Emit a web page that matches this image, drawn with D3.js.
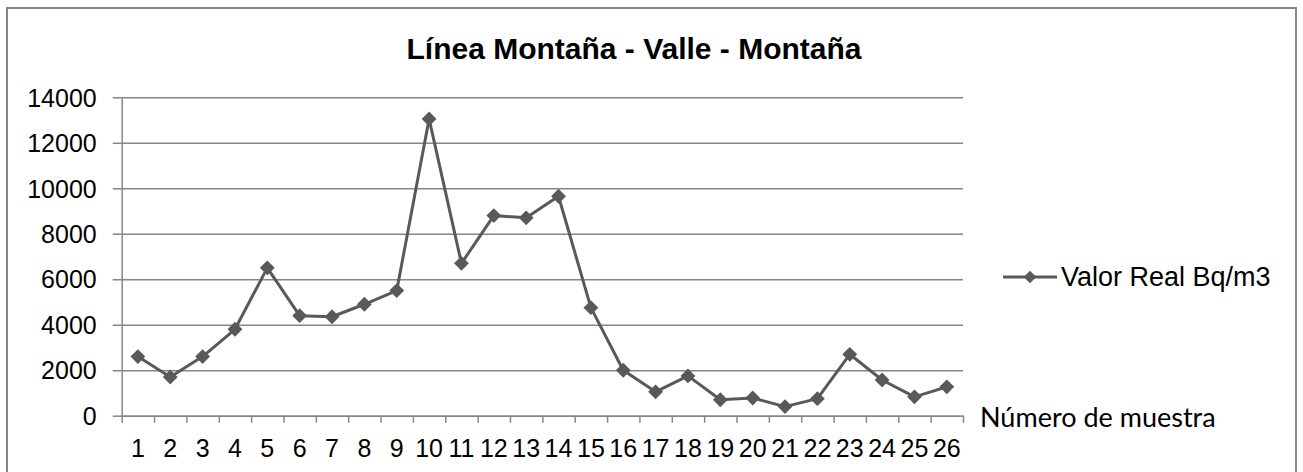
<!DOCTYPE html>
<html>
<head>
<meta charset="utf-8">
<script src="https://cdn.jsdelivr.net/npm/d3@7"></script>
<style>
  body { margin: 0; background: #ffffff; }
  text { font-family: "Liberation Sans", Arial, sans-serif; fill: #000000; }
  .grid line { stroke: #868686; stroke-width: 1.5; }
  .grid path { display: none; }
  .axis path, .axis line { stroke: #868686; stroke-width: 1.5; }
</style>
</head>
<body>
<div id="chart"></div>
<script>
// sample numbers on the x axis
var muestras = ["1", "2", "3", "4", "5", "6", "7", "8", "9", "10", "11", "12", "13",
                "14", "15", "16", "17", "18", "19", "20", "21", "22", "23", "24", "25", "26"];

var valorReal = [2600, 1700, 2600, 3800, 6500, 4400, 4350, 4900, 5500, 13050, 6700, 8800, 8700,
                 9650, 4750, 2000, 1050, 1750, 700, 780, 400, 750, 2700, 1570, 830, 1270];

// y axis ticks
var yTicks = [0, 2000, 4000, 6000, 8000, 10000, 12000, 14000];

var titulo = "Línea Montaña - Valle - Montaña";
var serieNombre = "Valor Real Bq/m3";
var ejeXNombre = "Número de muestra";

// sizes of the canvas and the plot area
var outerWidth = 1303,
    outerHeight = 472,
    plot = {left: 121.7, right: 963, top: 97.3, bottom: 415.7},
    color = "#595959";

var svg = d3.select("#chart")
    .append("svg")
    .attr("width", outerWidth)
    .attr("height", outerHeight);

// frame round the chart, bottom runs off the picture
svg.append("rect")
    .attr("x", 7)
    .attr("y", 8)
    .attr("width", 1289)
    .attr("height", 480)
    .attr("fill", "none")
    .attr("stroke", "#868686")
    .attr("stroke-width", 2);

// scales
var xScale = d3.scaleBand()
    .domain(muestras)
    .range([plot.left, plot.right])
    .padding(0);

var xEdges = d3.scaleLinear()
    .domain([0, muestras.length])
    .range([plot.left, plot.right]);

var yScale = d3.scaleLinear()
    .domain([0, 14000])
    .range([plot.bottom, plot.top]);

// horizontal gridlines
svg.append("g")
    .attr("class", "grid")
    .attr("transform", "translate(" + plot.left + ",0)")
    .call(d3.axisRight(yScale)
        .tickValues(yTicks)
        .tickSize(plot.right - plot.left)
        .tickFormat("")
    );

// y axis
var yAxis = svg.append("g")
    .attr("class", "axis")
    .attr("transform", "translate(" + plot.left + ",0)")
    .call(d3.axisLeft(yScale)
        .tickValues(yTicks)
        .tickSize(9)
        .tickSizeOuter(0)
        .tickPadding(16)
        .tickFormat(d => d)
    );

yAxis.selectAll("text")
    .style("font-size", "25px")
    .attr("dy", "0.35em");

// x axis: tick marks on band edges, labels in the middle of each band
svg.append("g")
    .attr("class", "axis")
    .attr("transform", "translate(0," + plot.bottom + ")")
    .call(d3.axisBottom(xEdges)
        .tickValues(d3.range(0, muestras.length + 1))
        .tickSize(7)
        .tickSizeOuter(0)
        .tickFormat("")
    );

var xLabels = svg.append("g")
    .attr("transform", "translate(0," + plot.bottom + ")")
    .call(d3.axisBottom(xScale)
        .tickSize(0)
        .tickPadding(24)
    );

xLabels.select(".domain").remove();
xLabels.selectAll("text")
    .style("font-size", "25px");

// the line
var line = d3.line()
    .x((d, i) => xScale(muestras[i]) + xScale.bandwidth() / 2)
    .y(d => yScale(d));

svg.append("path")
    .datum(valorReal)
    .attr("fill", "none")
    .attr("stroke", color)
    .attr("stroke-width", 3)
    .attr("stroke-linejoin", "round")
    .attr("d", line);

// diamond markers
var diamond = d3.symbol().type(d3.symbolSquare).size(110);

svg.selectAll(".marker")
    .data(valorReal)
    .enter()
    .append("path")
    .attr("class", "marker")
    .attr("d", diamond)
    .attr("fill", color)
    .attr("transform", (d, i) => "translate(" + (xScale(muestras[i]) + xScale.bandwidth() / 2)
        + "," + yScale(d) + ") rotate(45)");

// title
svg.append("text")
    .attr("x", 634)
    .attr("y", 59)
    .attr("text-anchor", "middle")
    .style("font-size", "30px")
    .style("font-weight", "bold")
    .text(titulo);

// legend
var legend = svg.append("g")
    .attr("transform", "translate(1003,277)");

legend.append("line")
    .attr("x1", 0)
    .attr("x2", 54)
    .attr("stroke", color)
    .attr("stroke-width", 3);

legend.append("path")
    .attr("d", d3.symbol().type(d3.symbolSquare).size(80))
    .attr("fill", color)
    .attr("transform", "translate(27,0) rotate(45)");

legend.append("text")
    .attr("x", 58)
    .attr("dy", "0.35em")
    .style("font-size", "27px")
    .text(serieNombre);

// x axis name
svg.append("text")
    .attr("x", 980)
    .attr("y", 427)
    .style("font-family", "Lato, 'Open Sans', sans-serif")
    .style("font-size", "27px")
    .text(ejeXNombre);
</script>
</body>
</html>
